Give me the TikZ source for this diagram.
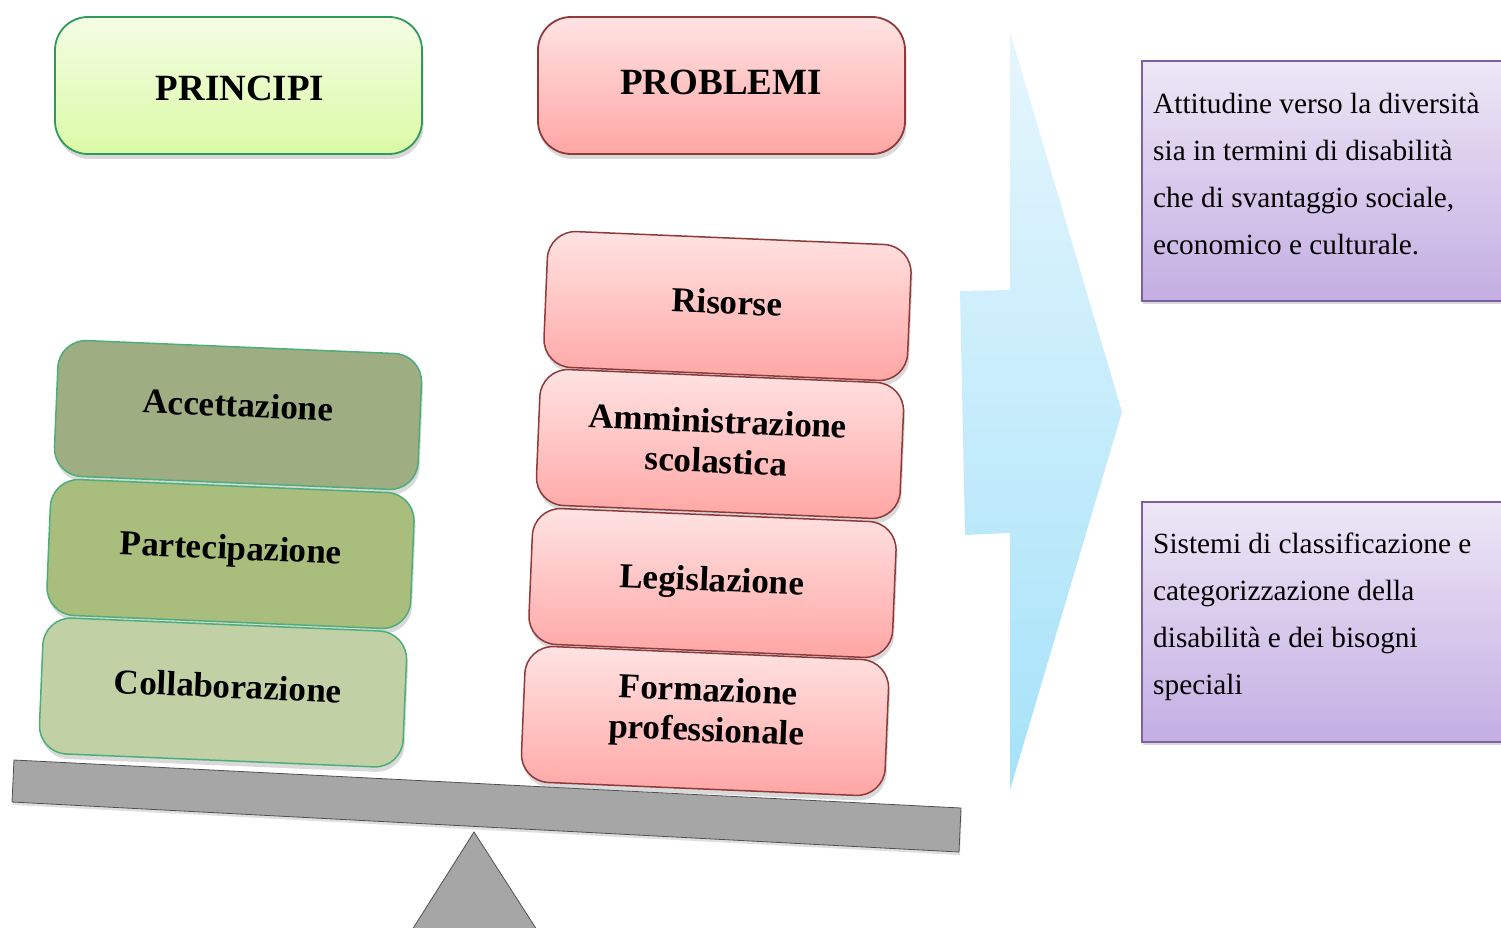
\documentclass[tikz,border=0pt]{standalone}
\usepackage{fontspec}
\setmainfont{Liberation Serif}
\usetikzlibrary{shadows,calc}
\definecolor{grnborder}{HTML}{2E9A5C}
\definecolor{grnA}{HTML}{F4FCE4}
\definecolor{grnB}{HTML}{DBFBA6}
\definecolor{redborder}{HTML}{8E3A3A}
\definecolor{pinkA}{HTML}{FFE3E3}
\definecolor{pinkB}{HTML}{FFA6A4}
\definecolor{stkborder}{HTML}{4DAE7C}
\definecolor{accC}{HTML}{9EAD82}
\definecolor{parC}{HTML}{A9BD7C}
\definecolor{colC}{HTML}{C1D1A5}
\definecolor{blueA}{HTML}{E6F6FD}
\definecolor{blueB}{HTML}{A6E2F9}
\definecolor{purA}{HTML}{EDE7F6}
\definecolor{purB}{HTML}{C4AEE3}
\definecolor{purborder}{HTML}{7E60A2}
\definecolor{beamC}{HTML}{A6A6A6}
\definecolor{beamborder}{HTML}{505050}
\begin{document}
\begin{tikzpicture}[x=1pt,y=-1pt,
  softshadow/.style={drop shadow={opacity=0.3, shadow xshift=1.5pt, shadow yshift=-5pt}},
  topbox/.style={rounded corners=33pt, minimum width=367pt, minimum height=137pt,
    line width=1.8pt, inner sep=0pt, softshadow},
  principi/.style={topbox, draw=grnborder, top color=grnA, bottom color=grnB},
  problemi/.style={topbox, draw=redborder, top color=pinkA, bottom color=pinkB},
  toptext/.style={inner sep=0pt, font=\fontsize{37}{40}\selectfont\bfseries},
  stackbox/.style={rounded corners=28pt, minimum width=364pt, minimum height=136pt,
    line width=1.5pt, inner sep=0pt, rotate=-2.4, softshadow},
  gbox/.style={stackbox, draw=stkborder},
  rbox/.style={stackbox, draw=redborder, top color=pinkA, bottom color=pinkB},
  stacktext/.style={rotate=-2.4, inner sep=0pt, align=center,
    font=\fontsize{35}{40}\selectfont\bfseries},
  purbox/.style={draw=purborder, line width=1.6pt, top color=purA, bottom color=purB,
    minimum width=400pt, minimum height=240pt, anchor=north west, inner sep=0pt,
    drop shadow={opacity=0.3, shadow xshift=1.5pt, shadow yshift=-3pt}},
  purtext/.style={anchor=north west, inner sep=0pt, align=left,
    font=\fontsize{29.3}{47}\selectfont},
  beam/.style={fill=beamC, draw=beamborder, line width=0.8pt}
]
\useasboundingbox (0,0) rectangle (1501,928);
\clip (0,0) rectangle (1501,928);

% fulcrum and beam
\path[beam] (412,930) -- (474,832) -- (537,930) -- cycle;
\path[beam, drop shadow={opacity=0.25, shadow xshift=1pt, shadow yshift=-3pt}]
  (14,760) -- (961,808) -- (959,852) -- (12,802) -- cycle;

% top boxes
\node[principi] (principi) at (238.5,85.5) {};
\node[toptext] (principiT) at (240,88) {PRINCIPI};
\node[problemi] (problemi) at (721.5,85.5) {};
\node[toptext] (problemiT) at (721,82) {PROBLEMI};

% left stack
\node[gbox, fill=accC] (acc) at (238,415) {};
\node[stacktext] (accT) at (238,405) {Accettazione};
\node[gbox, fill=parC] (par) at (230.5,554) {};
\node[stacktext] (parT) at (231,551) {Partecipazione};
\node[gbox, fill=colC] (col) at (223,692.5) {};
\node[stacktext] (colT) at (228,686) {Collaborazione};

% right stack
\node[rbox] (ris) at (727.5,306) {};
\node[stacktext] (risT) at (727,302) {Risorse};
\node[rbox] (amm) at (720,444) {};
\node[stacktext] (ammT) at (717,441) {Amministrazione\\scolastica};
\node[rbox] (leg) at (712.5,583) {};
\node[stacktext] (legT) at (712,583) {Legislazione};
\node[rbox] (for) at (705,721) {};
\node[stacktext] (forT) at (707.5,713) {Formazione\\professionale};

% blue arrow
\path[top color=blueA, bottom color=blueB]
  (1010,32) -- (1122,412) -- (1010,790) -- (1010,533) -- (965,535)
  -- (960,291) -- (1010,290) -- cycle;

% purple boxes
\node[purbox] (att) at (1141,60) {};
\node[purtext] (attT) at (1153,93) {Attitudine verso la diversità\\sia in termini di disabilità\\che di svantaggio sociale,\\economico e culturale.};
\node[purbox] (sis) at (1141,501) {};
\node[purtext] (sisT) at (1153,533) {Sistemi di classificazione e\\categorizzazione della\\disabilità e dei bisogni\\speciali};
\end{tikzpicture}
\end{document}
